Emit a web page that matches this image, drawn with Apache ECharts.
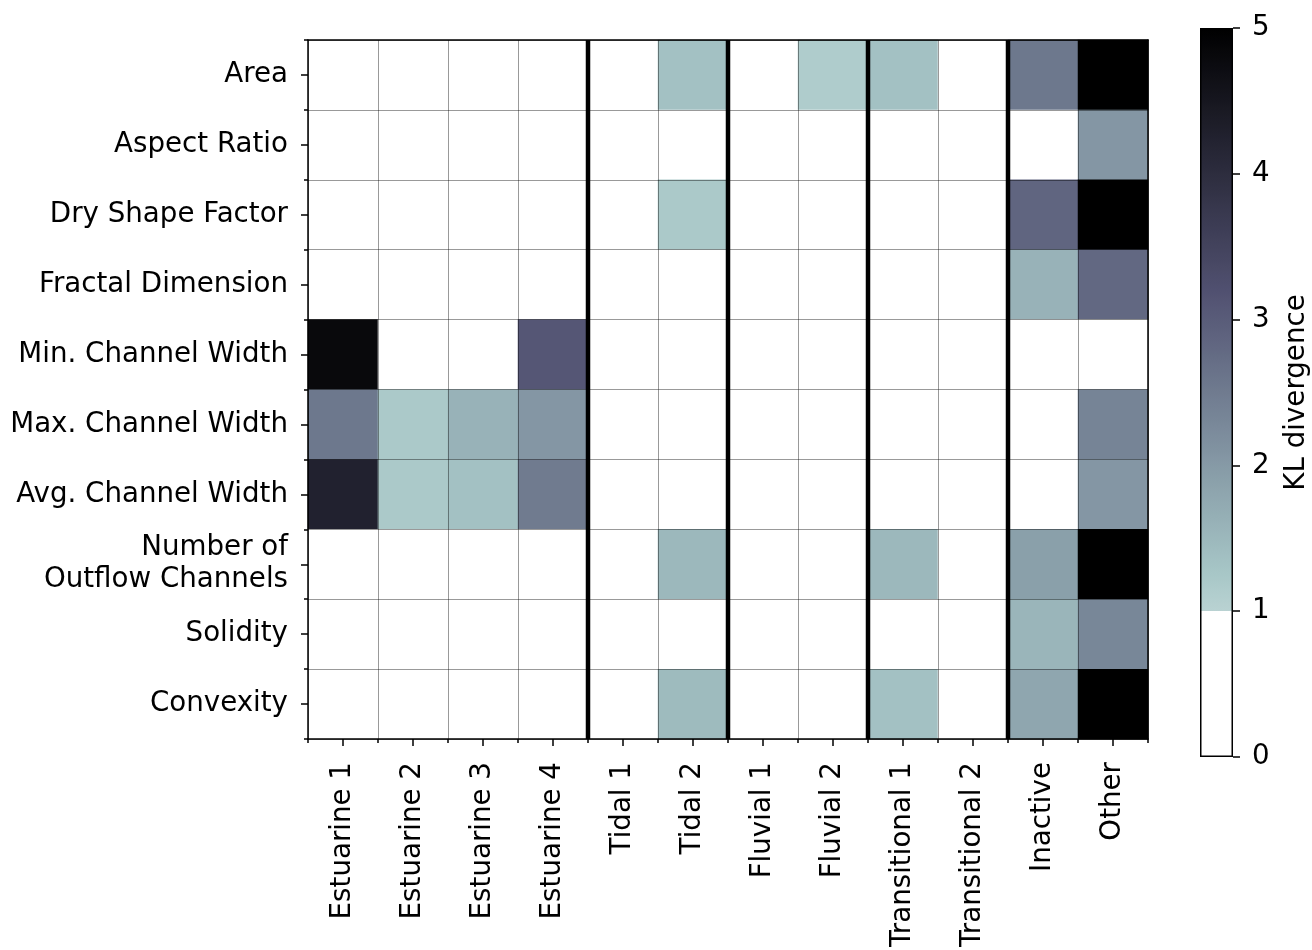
<!DOCTYPE html>
<html>
<head>
<meta charset="utf-8">
<script src="https://cdn.jsdelivr.net/npm/echarts@6/dist/echarts.min.js"></script>
<style>
  html, body { margin: 0; padding: 0; background: #ffffff; }
  #chart { width: 1312px; height: 950px; }
</style>
</head>
<body>
<div id="chart"></div>
<script>
// Delta classes (columns) and shape features (rows, top to bottom)
const classes = ['Estuarine 1', 'Estuarine 2', 'Estuarine 3', 'Estuarine 4',
  'Tidal 1', 'Tidal 2', 'Fluvial 1', 'Fluvial 2',
  'Transitional 1', 'Transitional 2', 'Inactive', 'Other'];
const features = ['Area', 'Aspect Ratio', 'Dry Shape Factor', 'Fractal Dimension',
  'Min. Channel Width', 'Max. Channel Width', 'Avg. Channel Width',
  'Number of\nOutflow Channels', 'Solidity', 'Convexity'];

// KL divergence of each feature, one value per class (values below 1 are left blank)
const area          = [0.5, 0.5, 0.5, 0.5, 0.5, 1.35, 0.5, 1.15, 1.35, 0.5, 2.55, 5.5];
const aspectRatio   = [0.5, 0.5, 0.5, 0.5, 0.5, 0.5, 0.5, 0.5, 0.5, 0.5, 0.5, 2.05];
const dryShape      = [0.5, 0.5, 0.5, 0.5, 0.5, 1.2, 0.5, 0.5, 0.5, 0.5, 2.85, 5.5];
const fractalDim    = [0.5, 0.5, 0.5, 0.5, 0.5, 0.5, 0.5, 0.5, 0.5, 0.5, 1.6, 2.8];
const minChannelW   = [4.8, 0.5, 0.5, 3.1, 0.5, 0.5, 0.5, 0.5, 0.5, 0.5, 0.5, 0.5];
const maxChannelW   = [2.55, 1.2, 1.6, 2.05, 0.5, 0.5, 0.5, 0.5, 0.5, 0.5, 0.5, 2.35];
const avgChannelW   = [4.25, 1.2, 1.35, 2.5, 0.5, 0.5, 0.5, 0.5, 0.5, 0.5, 0.5, 2.05];
const outflowCount  = [0.5, 0.5, 0.5, 0.5, 0.5, 1.5, 0.5, 0.5, 1.5, 0.5, 1.9, 5.5];
const solidity      = [0.5, 0.5, 0.5, 0.5, 0.5, 0.5, 0.5, 0.5, 0.5, 0.5, 1.55, 2.3];
const convexity     = [0.5, 0.5, 0.5, 0.5, 0.5, 1.45, 0.5, 0.5, 1.35, 0.5, 1.8, 5.5];
const featureRows = [area, aspectRatio, dryShape, fractalDim, minChannelW,
  maxChannelW, avgChannelW, outflowCount, solidity, convexity];

// First class of each group, marked with a heavy separator on its left edge
const groupStarts = ['Tidal 1', 'Fluvial 1', 'Transitional 1', 'Inactive'];

// Colour bar ticks
const colorTicks = [0, 1, 2, 3, 4, 5];
const colorMin = 0, colorMax = 5, blankBelow = 1;

// matplotlib "bone" segment data, used reversed (white -> black)
const bone = {
  r: [[0, 0], [0.746032, 0.652778], [1, 1]],
  g: [[0, 0], [0.365079, 0.319444], [0.746032, 0.777778], [1, 1]],
  b: [[0, 0], [0.365079, 0.444444], [1, 1]]
};
function seg(pts, t) {
  for (let i = 1; i < pts.length; i++) {
    if (t <= pts[i][0]) {
      const [x0, y0] = pts[i - 1], [x1, y1] = pts[i];
      return y0 + (y1 - y0) * (t - x0) / (x1 - x0);
    }
  }
  return pts[pts.length - 1][1];
}
function klColor(v) {
  if (v < blankBelow) return '#ffffff';
  const c = Math.max(colorMin, Math.min(colorMax, v));
  const t = 1 - (c - colorMin) / (colorMax - colorMin);
  const to255 = x => Math.round(x * 255);
  return 'rgb(' + to255(seg(bone.r, t)) + ',' + to255(seg(bone.g, t)) + ',' + to255(seg(bone.b, t)) + ')';
}

const cells = [];
featureRows.forEach((row, r) => {
  row.forEach((v, c) => {
    cells.push({ value: [c, r, v], itemStyle: { color: klColor(v) } });
  });
});

// Gradient for the colour bar (bottom = colorMin, top = colorMax)
const barStops = [
  { offset: 0, color: '#ffffff' },
  { offset: (blankBelow - colorMin) / (colorMax - colorMin), color: '#ffffff' }
];
for (let v = blankBelow; v <= colorMax + 1e-9; v += 0.05) {
  barStops.push({ offset: (v - colorMin) / (colorMax - colorMin), color: klColor(v) });
}

const FONT = 'DejaVu Sans';
const FS = 27.7;
const ink = '#000000';
const spine = { color: ink, width: 1.5 };

const chart = echarts.init(document.getElementById('chart'), null, { renderer: 'canvas' });
chart.setOption({
  backgroundColor: '#ffffff',
  animation: false,
  textStyle: { fontFamily: FONT, color: ink },
  grid: [
    { left: 308, top: 40, width: 840, height: 701, containLabel: false },
    { left: 1200, top: 28, width: 36, height: 729, containLabel: false }
  ],
  xAxis: [
    {
      gridIndex: 0, type: 'category', data: classes, position: 'bottom', z: 10,
      axisLine: { show: true, lineStyle: spine },
      axisTick: { show: true, alignWithLabel: true, interval: 0, length: 7, lineStyle: spine },
      axisLabel: { show: true, interval: 0, rotate: 90, margin: 23, fontFamily: FONT, fontSize: FS, color: ink },
      splitLine: { show: true, interval: 0, lineStyle: { color: 'rgba(0,0,0,0.4)', width: 1 } }
    },
    {
      gridIndex: 0, type: 'category', data: classes, position: 'bottom', z: 10,
      axisLine: { show: false },
      axisTick: { show: true, interval: 0, length: 4, lineStyle: spine },
      axisLabel: { show: false }, splitLine: { show: false }
    },
    {
      gridIndex: 0, type: 'category', data: classes, position: 'top', z: 10,
      axisLine: { show: true, lineStyle: spine },
      axisTick: { show: false }, axisLabel: { show: false }, splitLine: { show: false }
    },
    {
      gridIndex: 1, type: 'category', data: ['KL'], show: false
    }
  ],
  yAxis: [
    {
      gridIndex: 0, type: 'category', data: features, inverse: true, position: 'left', z: 10,
      axisLine: { show: true, lineStyle: spine },
      axisTick: { show: true, alignWithLabel: true, interval: 0, length: 7, lineStyle: spine },
      axisLabel: { show: true, interval: 0, margin: 20, fontFamily: FONT, fontSize: FS, color: ink, lineHeight: 32, align: 'right' },
      splitLine: { show: true, interval: 0, lineStyle: { color: 'rgba(0,0,0,0.4)', width: 1 } }
    },
    {
      gridIndex: 0, type: 'category', data: features, inverse: true, position: 'left', z: 10,
      axisLine: { show: false },
      axisTick: { show: true, interval: 0, length: 4, lineStyle: spine },
      axisLabel: { show: false }, splitLine: { show: false }
    },
    {
      gridIndex: 0, type: 'category', data: features, inverse: true, position: 'right', z: 10,
      axisLine: { show: true, lineStyle: spine },
      axisTick: { show: false }, axisLabel: { show: false }, splitLine: { show: false }
    },
    {
      gridIndex: 1, type: 'value', min: colorTicks[0], max: colorTicks[colorTicks.length - 1], interval: 1,
      position: 'right', z: 10,
      name: 'KL divergence', nameLocation: 'middle', nameRotate: 90, nameGap: 50,
      nameTextStyle: { fontFamily: FONT, fontSize: FS, color: ink },
      axisLine: { show: false },
      axisTick: { show: true, length: 7, lineStyle: spine },
      axisLabel: { show: true, margin: 19, fontFamily: FONT, fontSize: FS, color: ink },
      splitLine: { show: false }
    }
  ],
  series: [
    {
      type: 'heatmap', xAxisIndex: 0, yAxisIndex: 0, data: cells, silent: true,
      itemStyle: { borderWidth: 0 },
      emphasis: { disabled: true }
    },
    {
      type: 'custom', xAxisIndex: 0, yAxisIndex: 0, silent: true, z: 20,
      data: groupStarts.map(c => [classes.indexOf(c), 0]),
      renderItem: function (params, api) {
        const cs = params.coordSys;
        const x = api.coord([api.value(0), 0])[0] - api.size([1, 0])[0] / 2;
        return {
          type: 'line',
          shape: { x1: x, y1: cs.y, x2: x, y2: cs.y + cs.height },
          style: { stroke: ink, lineWidth: 4.5 }
        };
      }
    },
    {
      type: 'bar', xAxisIndex: 3, yAxisIndex: 3, silent: true, barWidth: '100%',
      data: [colorMax],
      itemStyle: {
        color: new echarts.graphic.LinearGradient(0, 1, 0, 0, barStops),
        borderColor: ink, borderWidth: 1.5
      }
    }
  ]
});
</script>
</body>
</html>
